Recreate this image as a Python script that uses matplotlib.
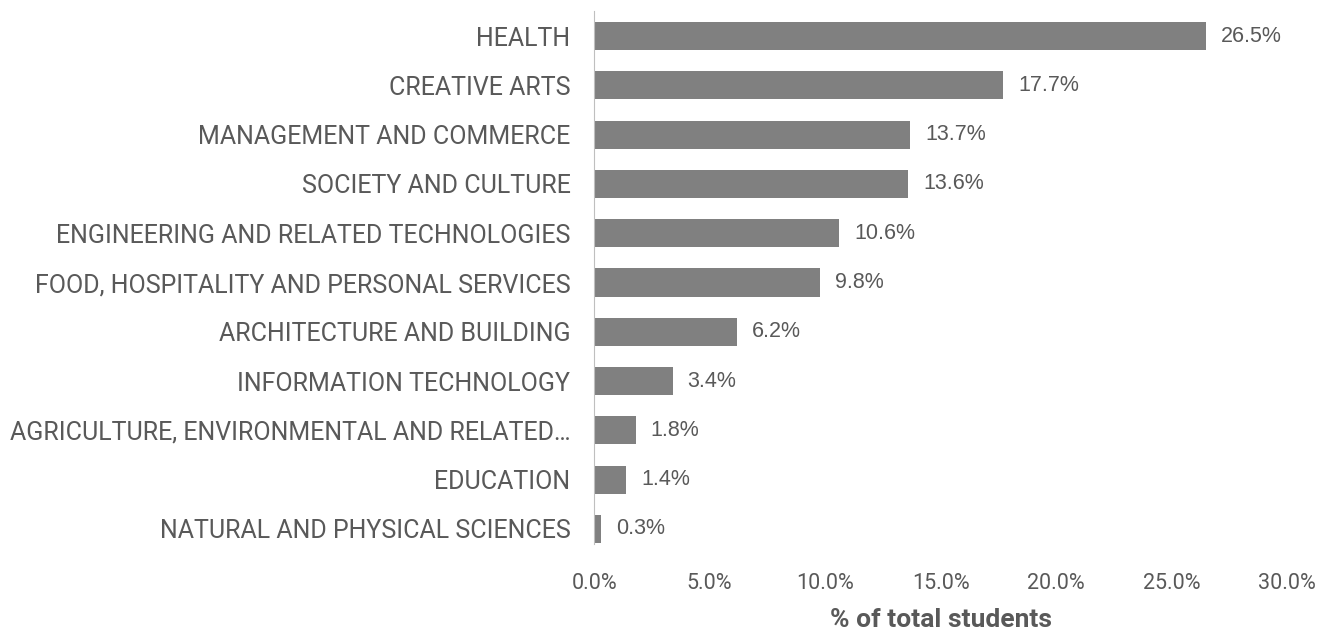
import matplotlib
matplotlib.use("Agg")
import matplotlib.pyplot as plt
from matplotlib.ticker import FuncFormatter

plt.rcParams['font.family'] = ['Roboto', 'DejaVu Sans']

categories = ["HEALTH", "CREATIVE ARTS", "MANAGEMENT AND COMMERCE",
              "SOCIETY AND CULTURE", "ENGINEERING AND RELATED TECHNOLOGIES",
              "FOOD, HOSPITALITY AND PERSONAL SERVICES",
              "ARCHITECTURE AND BUILDING", "INFORMATION TECHNOLOGY",
              "AGRICULTURE, ENVIRONMENTAL AND RELATED\u2026", "EDUCATION",
              "NATURAL AND PHYSICAL SCIENCES"]
values = [26.5, 17.7, 13.7, 13.6, 10.6, 9.8, 6.2, 3.4, 1.8, 1.4, 0.3]
xticks = [0, 5, 10, 15, 20, 25, 30]

txt = '#595959'
fig = plt.figure(figsize=(13.35, 6.32), dpi=100)
ax = fig.add_axes([0.445, 0.124, 0.519, 0.858])

ypos = list(range(len(categories)))
ax.barh(ypos, values, height=0.57, color='#808080')
for y, v in zip(ypos, values):
    ax.text(v + 0.65, y, f"{v:.1f}%", va='center', ha='left', fontsize=15.5,
            color=txt, family='Liberation Sans')

ax.set_ylim(len(categories) - 0.5, -0.5)
ax.set_xlim(0, 30)
ax.set_yticks(ypos)
ax.set_yticklabels(categories, fontsize=18, color=txt)
ax.set_xticks(xticks)
ax.xaxis.set_major_formatter(FuncFormatter(lambda x, p: f"{x:.1f}%"))
ax.tick_params(axis='x', labelsize=15.5, colors=txt, length=0, pad=14)
ax.tick_params(axis='y', length=0, pad=17)
for s in ['top', 'right', 'bottom']:
    ax.spines[s].set_visible(False)
ax.spines['left'].set_color('#bfbfbf')
ax.spines['left'].set_bounds(len(categories) - 0.7, -0.5)
ax.set_xlabel("% of total students", fontsize=19, fontweight='bold', color=txt, labelpad=10)

fig.savefig("out.png", dpi=100)
